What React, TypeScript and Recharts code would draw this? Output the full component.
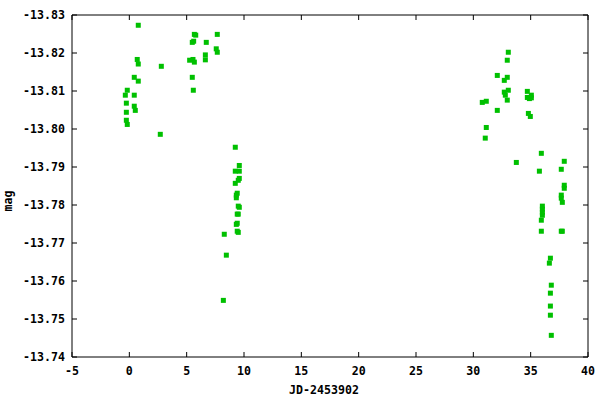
import {
  ScatterChart,
  Scatter,
  XAxis,
  YAxis,
  ReferenceArea,
} from 'recharts';

// JD-2453902 and magnitude
const jd = [
  -0.35, -0.26, -0.26, -0.26, -0.18, -0.18, 0.43, 0.43, 0.43, 0.52, 0.69, 0.78, 0.78, 0.78, 2.7, 2.79,
  5.26, 5.49, 5.49, 5.55, 5.58, 5.61, 5.67, 5.67, 5.79, 6.63, 6.63, 6.71, 7.58, 7.67, 7.67,
  8.2, 8.28, 8.46, 9.24, 9.59, 9.24, 9.59, 9.59, 9.5, 9.24, 9.41, 9.33, 9.33, 9.5, 9.59, 9.41, 9.5,
  9.41, 9.33, 9.41, 9.5,
  30.78, 31.13, 31.13, 31.04, 32.09, 32.09, 32.7, 32.7, 32.79, 32.96, 32.96, 32.96, 33.05, 33.05,
  33.75, 34.71, 35.06, 34.71, 35.06, 34.89, 34.8, 34.97, 35.93, 35.76, 35.93, 35.93, 36.02, 36.02,
  36.02, 36.02, 36.63, 36.72, 36.72, 36.72, 36.72, 36.8, 36.8, 37.67, 37.67, 37.67, 37.76, 37.67,
  37.76, 37.93, 37.93, 37.93,
];

const mag = [
  -13.8089, -13.8068, -13.8044, -13.8023, -13.8012, -13.8102, -13.8136, -13.8089, -13.806, -13.8049,
  -13.8183, -13.8171, -13.8126, -13.8273, -13.7986, -13.8165,
  -13.8181, -13.8228, -13.8136, -13.8183, -13.8102, -13.8231, -13.8249, -13.8176, -13.8247, -13.8195,
  -13.8182, -13.8228, -13.8211, -13.8249, -13.8202,
  -13.7549, -13.7723, -13.7668, -13.7952, -13.7904, -13.7889, -13.7889, -13.787, -13.7865, -13.7857,
  -13.7831, -13.7826, -13.7819, -13.7797, -13.7794, -13.7776, -13.7776, -13.7752, -13.7749, -13.7731,
  -13.7728,
  -13.807, -13.8073, -13.8004, -13.7976, -13.8141, -13.8049, -13.8128, -13.8097, -13.8089, -13.8181,
  -13.8136, -13.8076, -13.8202, -13.8102, -13.7912, -13.8099, -13.8089, -13.8083, -13.8082, -13.808,
  -13.8041, -13.8033, -13.7936, -13.7889, -13.776, -13.7731, -13.7797, -13.7789, -13.7781, -13.7773,
  -13.7647, -13.766, -13.7568, -13.7534, -13.751, -13.7589, -13.7457, -13.7894, -13.7826, -13.7818,
  -13.7807, -13.7731, -13.7731, -13.7915, -13.7852, -13.7844,
];

const xTicks = [-5, 0, 5, 10, 15, 20, 25, 30, 35, 40];
const yTicks = [-13.83, -13.82, -13.81, -13.8, -13.79, -13.78, -13.77, -13.76, -13.75, -13.74];

const points = jd.map((x, i) => ({ x, y: mag[i] }));

const W = 600;
const H = 400;
const LEFT = 72;
const TOP = 15;
const RIGHT = 12;
const BOTTOM = 43;
const PLOT_W = W - LEFT - RIGHT;
const PLOT_H = H - TOP - BOTTOM;
const TICK = 5;
const GREEN = '#00c000';
const FONT = '"DejaVu Sans Mono", monospace';
const FS = 11.6;

const YTick = ({ x, y, payload }: any) => (
  <g>
    <line x1={x} x2={x + TICK} y1={y} y2={y} stroke="#000" />
    <line x1={x + PLOT_W - TICK} x2={x + PLOT_W} y1={y} y2={y} stroke="#000" />
    <text x={x - 7} y={y + 4} textAnchor="end" fontFamily={FONT} fontSize={FS} fontWeight="bold" fill="#000">
      {payload.value.toFixed(2)}
    </text>
  </g>
);

const XTick = ({ x, y, payload }: any) => (
  <g>
    <line x1={x} x2={x} y1={y} y2={y - TICK} stroke="#000" />
    <line x1={x} x2={x} y1={y - PLOT_H} y2={y - PLOT_H + TICK} stroke="#000" />
    <text x={x} y={y + 18} textAnchor="middle" fontFamily={FONT} fontSize={FS} fontWeight="bold" fill="#000">
      {payload.value}
    </text>
  </g>
);

const Square = ({ cx, cy }: any) => (
  <rect x={cx - 2.5} y={cy - 2.5} width={5} height={5} fill={GREEN} />
);

export default function App() {
  return (
    <div style={{ position: 'absolute', left: 0, top: 0, width: W, height: H, background: '#fff' }}>
      <ScatterChart width={W} height={H} margin={{ top: TOP, right: RIGHT, bottom: 0, left: 0 }}>
        <XAxis
          type="number"
          dataKey="x"
          domain={[-5, 40]}
          ticks={xTicks}
          height={BOTTOM}
          tickSize={0}
          tickMargin={0}
          axisLine={false}
          tickLine={false}
          tick={<XTick />}
          allowDataOverflow
          label={({ viewBox }: any) => (
            <text
              x={viewBox.x + viewBox.width / 2 - 6}
              y={viewBox.y + 37}
              textAnchor="middle"
              fontFamily={FONT}
              fontSize={FS}
              fontWeight="bold"
              fill="#000"
            >
              JD-2453902
            </text>
          )}
        />
        <YAxis
          type="number"
          dataKey="y"
          domain={[-13.83, -13.74]}
          ticks={yTicks}
          reversed
          width={LEFT}
          tickSize={0}
          tickMargin={0}
          axisLine={false}
          tickLine={false}
          tick={<YTick />}
          allowDataOverflow
          label={({ viewBox }: any) => (
            <text
              x={12}
              y={viewBox.y + viewBox.height / 2 + 15}
              transform={`rotate(-90 12 ${viewBox.y + viewBox.height / 2 + 15})`}
              textAnchor="middle"
              fontFamily={FONT}
              fontSize={FS}
              fontWeight="bold"
              fill="#000"
            >
              mag
            </text>
          )}
        />
        <ReferenceArea x1={-5} x2={40} y1={-13.83} y2={-13.74} fill="none" stroke="#000" strokeWidth={1} ifOverflow="visible" />
        <Scatter data={points} shape={<Square />} isAnimationActive={false} />
      </ScatterChart>
    </div>
  );
}
